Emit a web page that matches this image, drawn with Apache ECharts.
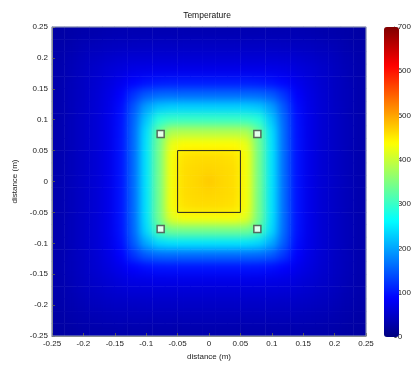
<!DOCTYPE html>
<html><head><meta charset="utf-8">
<script src="https://cdn.jsdelivr.net/npm/echarts@6/dist/echarts.min.js"></script>
<style>html,body{margin:0;padding:0;background:#fff}#c{width:414px;height:367px}</style>
</head><body>
<svg width="0" height="0" style="position:absolute">
  <filter id="smooth" x="0" y="0" width="100%" height="100%" color-interpolation-filters="sRGB">
    <feGaussianBlur in="SourceGraphic" stdDeviation="4.5" result="b"/>
    <feColorMatrix in="b" type="matrix" values="1 0 0 0 0  0 1 0 0 0  0 0 1 0 0  0 0 0 255 0" result="o"/>
    <feComposite in="o" in2="SourceAlpha" operator="in"/>
  </filter>
</svg>
<div id="c"></div>
<script>
// cell centres (m)
const xCenters = [-0.24,-0.22,-0.20,-0.18,-0.16,-0.14,-0.12,-0.10,-0.08,-0.06,-0.04,-0.02,0,0.02,0.04,0.06,0.08,0.10,0.12,0.14,0.16,0.18,0.20,0.22,0.24];
const yCenters = [-0.24,-0.22,-0.20,-0.18,-0.16,-0.14,-0.12,-0.10,-0.08,-0.06,-0.04,-0.02,0,0.02,0.04,0.06,0.08,0.10,0.12,0.14,0.16,0.18,0.20,0.22,0.24];
// temperature, rows from top (y=0.24) to bottom (y=-0.24)
const temperatureRows = [
[25,28,30,32,34,35,35,35,35,35,35,35,35,35,35,35,35,35,35,35,34,32,30,28,25],
[28,32,37,40,43,44,45,46,46,46,46,46,46,46,46,46,46,46,45,44,43,40,37,32,28],
[30,36,42,47,52,55,57,58,58,58,58,58,58,58,58,58,58,58,57,55,52,47,42,36,30],
[31,38,45,52,59,65,70,72,73,73,73,73,73,73,73,73,73,72,70,65,59,52,45,38,31],
[32,39,47,55,65,76,89,98,103,105,105,105,105,105,105,105,103,98,89,76,65,55,47,39,32],
[32,40,47,57,69,86,123,149,158,160,160,160,160,160,160,160,158,149,123,86,69,57,47,40,32],
[32,40,48,58,71,94,146,197,224,230,231,231,231,231,231,230,224,197,146,94,71,58,48,40,32],
[32,40,48,58,72,98,156,224,288,300,301,301,301,301,301,300,288,224,156,98,72,58,48,40,32],
[32,40,48,58,72,99,159,241,331,381,384,384,384,384,384,381,331,241,159,99,72,58,48,40,32],
[32,40,48,58,72,100,160,245,339,424,438,438,438,438,438,424,339,245,160,100,72,58,48,40,32],
[32,40,48,58,72,100,160,245,340,432,457,460,461,460,457,432,340,245,160,100,72,58,48,40,32],
[32,40,48,58,72,100,160,245,340,432,460,464,466,464,460,432,340,245,160,100,72,58,48,40,32],
[32,40,48,58,72,100,160,245,340,432,461,466,474,466,461,432,340,245,160,100,72,58,48,40,32],
[32,40,48,58,72,100,160,245,340,432,460,464,466,464,460,432,340,245,160,100,72,58,48,40,32],
[32,40,48,58,72,100,160,245,340,432,457,460,461,460,457,432,340,245,160,100,72,58,48,40,32],
[32,40,48,58,72,100,160,244,339,417,432,432,432,432,432,417,339,244,160,100,72,58,48,40,32],
[32,40,48,58,72,99,158,236,314,339,340,340,340,340,340,339,314,236,158,99,72,58,48,40,32],
[32,40,48,58,71,95,149,204,236,244,245,245,245,245,245,244,236,204,149,95,71,58,48,40,32],
[32,40,47,57,69,86,123,149,158,160,160,160,160,160,160,160,158,149,123,86,69,57,47,40,32],
[32,39,47,55,65,75,86,95,99,100,100,100,100,100,100,100,99,95,86,75,65,55,47,39,32],
[31,38,45,52,58,65,69,71,72,72,72,72,72,72,72,72,72,71,69,65,58,52,45,38,31],
[30,36,42,47,52,55,57,58,58,58,58,58,58,58,58,58,58,58,57,55,52,47,42,36,30],
[29,33,38,42,45,47,47,48,48,48,48,48,48,48,48,48,48,48,47,47,45,42,38,33,29],
[26,30,33,36,38,39,40,40,40,40,40,40,40,40,40,40,40,40,40,39,38,36,33,30,26],
[24,26,29,30,31,32,32,32,32,32,32,32,32,32,32,32,32,32,32,32,31,30,29,26,24]
];
const heaterX = [-0.05, 0.05, 0.05, -0.05, -0.05];
const heaterY = [-0.05, -0.05, 0.05, 0.05, -0.05];
const sensorX = [-0.077, 0.077, -0.077, 0.077];
const sensorY = [0.077, 0.077, -0.077, -0.077];
const colorMin = 0, colorMax = 700, colorStep = 100;
const jetColors = ['#000080','#0000ff','#0080ff','#00ffff','#80ff80','#ffff00','#ff8000','#ff0000','#800000'];

const heatData = [];
temperatureRows.forEach((row, r) => {
  const yi = temperatureRows.length - 1 - r;
  row.forEach((v, c) => heatData.push([c, yi, v]));
});
const heaterData = heaterX.map((x, i) => [x, heaterY[i]]);
const sensorData = sensorX.map((x, i) => [x, sensorY[i]]);

const FONT = 'Liberation Sans, Arial, sans-serif';
const lbl = {fontFamily: FONT, fontSize: 8, color: '#222'};
const fmt = v => String(+v.toFixed(2));
const TOP = 1;
const HIDE = {show: false, axisLine: {show: false}, axisTick: {show: false}, axisLabel: {show: false},
  splitLine: {show: false}, minorSplitLine: {show: false}, splitArea: {show: false}, minorTick: {show: false}};
const NOSPLIT = {splitLine: {show: false}, minorSplitLine: {show: false}, splitArea: {show: false}, minorTick: {show: false}};

const chart = echarts.init(document.getElementById('c'), null, {renderer: 'canvas'});
chart.setOption({
  animation: false,
  backgroundColor: 'transparent',
  tooltip: {show: false},
  title: {text: 'Temperature', left: 'center', top: 11, padding: 0, zlevel: TOP,
    textStyle: {fontFamily: FONT, fontSize: 8.5, fontWeight: 'normal', color: '#111'}},
  grid: [
    {left: 52, top: 27, width: 314, height: 309, show: true, zlevel: TOP, z: 20,
      backgroundColor: 'transparent', borderColor: '#9aa4b0', borderWidth: 1},
    {left: 384, top: 27, width: 15, height: 310, show: false}
  ],
  visualMap: {
    type: 'continuous', min: colorMin, max: colorMax, seriesIndex: 0, zlevel: TOP,
    calculable: false, hoverLink: false, left: 384, top: 27, padding: 0,
    itemWidth: 15, itemHeight: 310, text: null, showLabel: false,
    inRange: {color: jetColors}
  },
  xAxis: [
    Object.assign({type: 'category', gridIndex: 0, data: xCenters, boundaryGap: true, position: 'top'}, HIDE),
    Object.assign({type: 'value', gridIndex: 0, min: -0.25, max: 0.25, interval: 0.05, position: 'bottom', zlevel: TOP,
      name: 'distance (m)', nameLocation: 'middle', nameGap: 17, nameTextStyle: lbl,
      axisLine: {show: true, onZero: false, lineStyle: {color: '#777', width: 1}},
      axisTick: {show: true, inside: true, length: 3, lineStyle: {color: '#555'}},
      axisLabel: Object.assign({margin: 4, formatter: fmt}, lbl)}, NOSPLIT),
    Object.assign({type: 'value', gridIndex: 1, min: 0, max: 1}, HIDE)
  ],
  yAxis: [
    Object.assign({type: 'category', gridIndex: 0, data: yCenters, boundaryGap: true, position: 'right'}, HIDE),
    Object.assign({type: 'value', gridIndex: 0, min: -0.25, max: 0.25, interval: 0.05, position: 'left', zlevel: TOP,
      name: 'distance (m)', nameLocation: 'middle', nameGap: 29, nameRotate: 90, nameTextStyle: lbl,
      axisLine: {show: true, onZero: false, lineStyle: {color: '#777', width: 1}},
      axisTick: {show: true, inside: true, length: 3, lineStyle: {color: '#555'}},
      axisLabel: Object.assign({margin: 4, formatter: fmt}, lbl)}, NOSPLIT),
    Object.assign({type: 'value', gridIndex: 1, min: colorMin, max: colorMax, interval: colorStep, position: 'right', zlevel: TOP,
      axisLine: {show: true, onZero: false, lineStyle: {color: '#555', width: 1}},
      axisTick: {show: true, inside: false, length: 2, lineStyle: {color: '#555'}},
      axisLabel: Object.assign({margin: 3}, lbl)}, NOSPLIT)
  ],
  series: [
    {type: 'heatmap', xAxisIndex: 0, yAxisIndex: 0, data: heatData, progressive: 0, zlevel: 0,
      itemStyle: {borderWidth: 0}, emphasis: {disabled: true}, silent: true},
    {type: 'line', xAxisIndex: 1, yAxisIndex: 1, data: heaterData, symbol: 'none', zlevel: TOP, z: 5,
      lineStyle: {color: '#222', width: 1}, silent: true},
    {type: 'scatter', xAxisIndex: 1, yAxisIndex: 1, data: sensorData, symbol: 'rect', symbolSize: 7, zlevel: TOP, z: 6,
      itemStyle: {color: '#ffffff', borderColor: '#444', borderWidth: 1.5}, silent: true}
  ]
});
// smooth the heatmap layer only (like interpolated shading)
const zr = chart.getZr();
let heatCanvas = null;
try { heatCanvas = zr.painter.getLayer(0).dom; } catch (e) {}
if (!heatCanvas) heatCanvas = document.querySelector('#c canvas');
if (heatCanvas) heatCanvas.style.filter = 'url(#smooth)';
</script></body></html>
